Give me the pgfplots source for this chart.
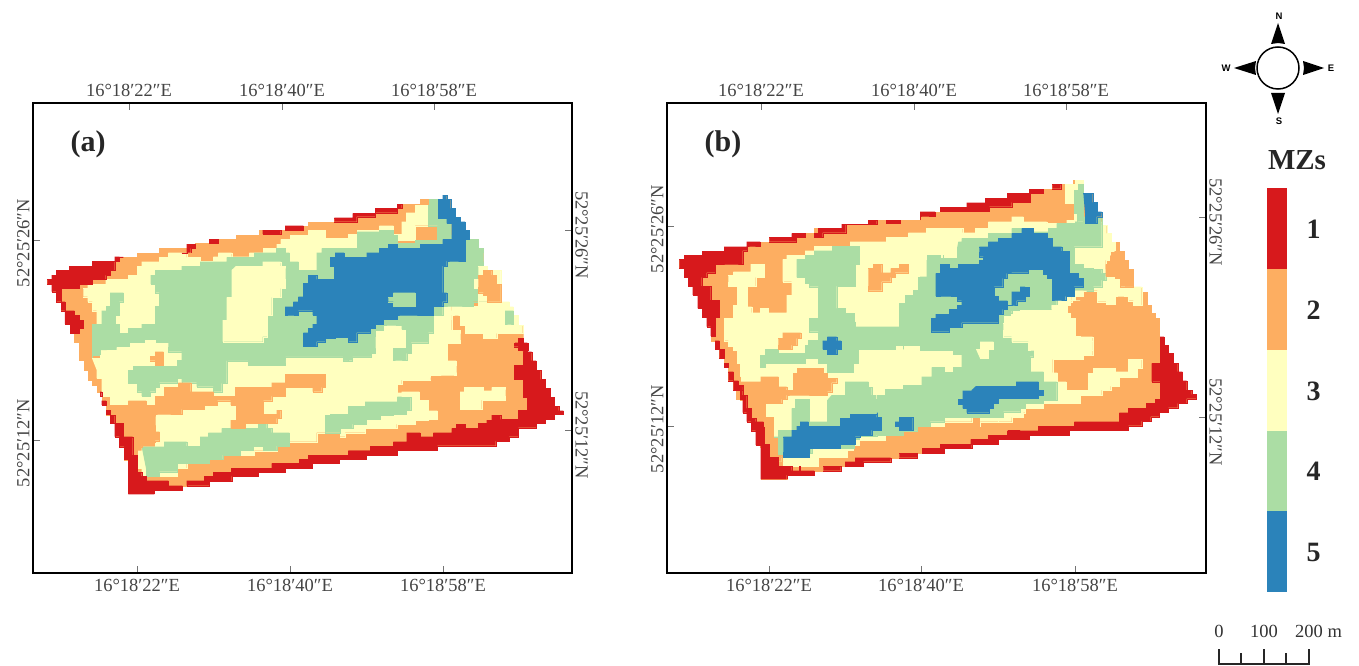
\documentclass[border=0pt]{standalone}
\usepackage{pgfplots}
\usepackage{fontspec}
\setmainfont{Liberation Serif}
\newfontfamily\cmpfont{Liberation Sans}
\pgfplotsset{compat=1.18}
\definecolor{cR}{HTML}{D7191C}
\definecolor{cO}{HTML}{FDAE61}
\definecolor{cY}{HTML}{FFFFBF}
\definecolor{cG}{HTML}{ABDDA4}
\definecolor{cB}{HTML}{2B83BA}
\definecolor{tl}{HTML}{444444}
\newcommand{\poly}[3]{\addplot[const plot,fill=#1,draw=#1,line width=0.2pt,#2] coordinates {#3};}
\pgfplotsset{
 z1/.style={x filter/.expression={30+x/3},y filter/.expression={180+y/3}},
 z2/.style={x filter/.expression={300+x/3},y filter/.expression={180+y/3}},
 z3/.style={x filter/.expression={100+x/3},y filter/.expression={340+y/3}},
 z4/.style={x filter/.expression={340+x/3},y filter/.expression={320+y/3}},
 z5/.style={x filter/.expression={670+x/3},y filter/.expression={220+y/3}},
 z6/.style={x filter/.expression={920+x/3},y filter/.expression={170+y/3}},
 z7/.style={x filter/.expression={740+x/3},y filter/.expression={340+y/3}},
 z8/.style={x filter/.expression={980+x/3},y filter/.expression={300+y/3}},
 mapax/.style={scale only axis,width=539pt,height=470pt,y dir=reverse,ymin=103,ymax=573,
  axis line style={line width=1.6pt,black},tick align=inside,major tick length=7pt,
  tick style={line width=0.5pt,black!55},
  tick label style={font=\fontsize{18.5}{20}\selectfont,text=tl},
  xticklabels={16°18′22″E,16°18′40″E,16°18′58″E},
  yticklabels={52°25′26″N,52°25′12″N},
  xtick pos=bottom,ytick pos=left},
 leftax/.style={ytick pos=left,xtick pos=bottom,xticklabel style={yshift=-3pt},yticklabel style={rotate=90,anchor=south,xshift=-3pt}},
 rightax/.style={ytick pos=right,xtick pos=top,xticklabel style={yshift=3pt},yticklabel style={rotate=-90,anchor=south,xshift=5pt}},
}
\begin{document}
\begin{tikzpicture}
\useasboundingbox (0pt,0pt) rectangle (1359pt,-666pt);

% ---------- panel (a)
\begin{axis}[mapax,leftax,at={(33pt,-573pt)},anchor=south west,xmin=33,xmax=572,
  xtick={137,290,443},ytick={240,440}]
\poly{cO}{}{(47,280)(56,270)(69,266)(92,261)(115,257)(123,257)(137,253)(159,248)(187,244)(195,243)(209,239)(236,235)(259,230)(285,226)(308,222)(334,218)(353,213)(375,208)(397,204)(420,199)(438,199)(443,195)(447,195)(447,199)(451,199)(451,208)(455,208)(455,217)(460,217)(460,222)(465,222)(465,230)(469,230)(469,239)(474,239)(478,248)(483,257)(483,266)(487,270)(492,275)(496,284)(501,293)(501,302)(509,307)(513,315)(518,325)(523,333)(523,343)(527,343)(527,352)(532,352)(532,361)(536,361)(536,370)(541,370)(541,379)(545,379)(545,388)(550,388)(550,397)(554,397)(554,406)(559,406)(559,411)(563,411)(563,414)(554,415)(554,419)(545,419)(536,424)(536,428)(527,428)(518,433)(518,437)(509,437)(509,441)(496,442)(496,446)(437,446)(437,450)(397,451)(397,455)(365,455)(365,459)(339,459)(339,463)(312,463)(312,467)(285,468)(285,472)(258,472)(258,476)(232,476)(232,481)(209,481)(209,486)(182,486)(182,490)(154,490)(154,493)(128,493)(128,460)(124,459)(124,447)(119,446)(119,437)(115,437)(115,423)(110,423)(110,415)(106,414)(106,405)(102,405)(102,392)(97,385)(92,380)(88,370)(84,360)(79,350)(79,342)(74,342)(74,333)(70,333)(70,324)(65,324)(65,311)(61,311)(61,302)(56,302)(56,292)(52,292)(52,284)(47,283)}
% yellow base
\poly{cY}{z1}{(160,325)(173,312)(227,312)(227,298)(295,298)(295,285)(322,270)(322,258)(335,245)(388,245)(388,232)(415,232)(415,218)(470,218)(470,232)(510,232)(510,243)(550,243)(550,230)(565,218)(605,218)(605,230)(658,230)(658,218)(700,218)(700,205)(740,205)(740,192)(752,178)(780,178)(780,165)(840,165)(840,510)(187,510)(187,432)(200,420)(200,392)(187,365)(173,365)(173,350)(160,350)}
\poly{cY}{z2}{(0,165)(25,150)(62,150)(75,175)(145,175)(145,162)(172,150)(238,150)(238,137)(265,137)(280,162)(305,162)(305,125)(318,98)(345,75)(385,87)(412,125)(412,137)(345,180)(292,190)(200,300)(0,300)}
\poly{cY}{z2}{(400,405)(428,392)(455,378)(520,378)(535,365)(602,365)(628,380)(640,405)(655,435)(668,460)(615,460)(590,475)(550,475)(550,460)(495,460)(495,435)(480,405)(470,405)(455,420)}
\poly{cY}{z3}{(0,0)(840,0)(840,265)(730,278)(650,292)(650,305)(568,318)(530,332)(462,332)(462,345)(420,345)(368,358)(328,370)(260,385)(232,408)(138,408)(125,385)(112,332)(125,320)(165,275)(165,235)(130,200)(58,195)(30,168)(5,140)(5,115)(0,90)}
\poly{cY}{z4}{(0,350)(15,338)(75,338)(75,325)(170,312)(225,300)(265,298)(292,272)(265,240)(238,215)(185,218)(172,205)(172,192)(185,180)(270,178)(270,165)(335,165)(348,150)(348,122)(322,108)(322,70)(360,50)(360,30)(335,0)(335,-60)(0,-60)}
% green
\poly{cG}{z1}{(187,510)(187,432)(200,432)(215,420)(215,392)(228,378)(240,378)(240,338)(280,338)(280,365)(268,365)(268,405)(255,405)(255,432)(268,445)(268,460)(295,460)(295,445)(335,445)(335,432)(375,432)(375,378)(388,378)(388,338)(375,338)(375,312)(362,312)(362,285)(375,270)(455,270)(455,258)(510,258)(510,245)(550,245)(590,232)(660,232)(672,218)(738,218)(738,205)(765,205)(765,218)(778,218)(778,245)(805,258)(805,270)(840,285)(840,510)}
\poly{cG}{z2}{(0,285)(25,270)(50,270)(50,218)(65,205)(130,205)(172,155)(238,150)(265,150)(280,165)(292,190)(345,180)(412,137)(385,87)(385,58)(415,58)(440,115)(455,130)(455,165)(495,178)(522,178)(535,205)(549,232)(549,258)(535,258)(535,298)(522,298)(522,320)(535,325)(562,365)(535,365)(520,378)(455,378)(428,392)(428,405)(400,405)(400,458)(385,488)(333,520)(320,540)(292,540)(280,520)(280,505)(318,485)(318,448)(305,435)(270,435)(250,450)(225,490)(225,520)(212,530)(158,530)(145,542)(130,542)(130,530)(-5,530)(-45,542)(-45,555)(-155,555)(-155,542)(-208,542)(-220,580)(-220,285)}
\poly{cG}{z3}{(-24,25)(20,25)(0,45)(-24,55)}
\poly{cY}{z3}{(-24,55)(0,45)(20,30)(50,22)(90,10)(135,10)(135,0)(165,0)(165,10)(205,10)(205,22)(245,35)(245,60)(232,60)(232,78)(100,78)(85,90)(85,115)(0,115)(-10,90)}
\poly{cG}{z3}{(205,0)(800,0)(813,50)(757,50)(757,62)(730,62)(730,50)(595,50)(555,62)(555,75)(445,75)(445,62)(392,62)(380,100)(380,130)(365,155)(340,155)(340,140)(290,128)(245,115)(232,128)(205,128)(178,142)(165,155)(150,168)(125,155)(112,142)(112,130)(85,115)(85,90)(100,78)(232,78)(232,60)(245,60)(245,35)(205,22)}
\poly{cG}{z3}{(125,320)(192,305)(260,305)(260,318)(285,318)(300,290)(325,290)(325,278)(365,278)(365,265)(475,265)(475,250)(500,250)(500,265)(515,278)(568,278)(568,318)(530,318)(530,330)(490,330)(490,318)(460,330)(420,345)(380,345)(368,358)(328,358)(328,370)(248,370)(232,395)(178,395)(178,408)(150,408)(138,385)}
\poly{cG}{z3}{(675,225)(690,222)(745,210)(745,198)(795,198)(795,185)(892,170)(905,172)(932,198)(932,210)(918,223)(880,225)(840,238)(798,252)(758,265)(720,278)(690,278)(675,255)}
\poly{cG}{z2}{(615,392)(628,392)(640,405)(640,432)(628,432)(615,420)}
% yellow islands
\poly{cY}{z1}{(618,258)(698,258)(698,245)(738,245)(752,258)(765,270)(765,325)(752,338)(752,352)(725,365)(725,405)(712,405)(712,470)(698,485)(590,485)(578,465)(578,420)(590,405)(590,352)(605,338)(605,270)}
\poly{cY}{z2}{(535,258)(549,258)(562,270)(602,338)(602,365)(562,365)(535,325)(522,320)(522,298)(535,298)}
% orange islands
\poly{cO}{z3}{(58,195)(85,182)(138,182)(138,195)(165,195)(165,168)(192,142)(235,142)(235,128)(260,128)(272,155)(340,155)(340,168)(365,168)(405,155)(405,142)(515,142)(515,128)(545,128)(555,103)(675,103)(675,142)(665,142)(665,155)(638,155)(638,142)(595,142)(555,168)(515,182)(490,182)(490,222)(530,222)(530,210)(542,210)(542,235)(530,250)(435,250)(435,265)(408,265)(392,240)(408,222)(408,195)(392,195)(392,182)(365,182)(352,195)(312,195)(312,208)(245,208)(245,222)(178,222)(165,235)(165,275)(178,290)(178,302)(165,305)(125,320)(112,332)(112,360)(100,360)(85,300)(70,260)(45,225)(30,195)}
\poly{cO}{z3}{(150,48)(165,48)(165,35)(190,35)(190,75)(165,75)(165,62)(150,62)}
\poly{cO}{z2}{(535,298)(535,285)(550,270)(562,270)(575,285)(588,312)(602,338)(602,365)(575,365)(562,345)(550,338)(535,320)}
\poly{cO}{z2}{(360,58)(385,58)(385,72)(360,72)}
\poly{cY}{z4}{(360,215)(372,202)(425,202)(430,212)(455,202)(482,202)(495,215)(495,240)(425,258)(425,268)(372,268)(360,255)}
% blue
\poly{cB}{z2}{(428,45)(440,45)(440,58)(452,58)(452,85)(465,85)(465,112)(480,112)(480,125)(495,125)(495,150)(508,150)(508,178)(495,178)(495,243)(455,243)(440,258)(428,270)(428,338)(440,338)(440,365)(428,378)(400,392)(400,405)(305,405)(292,418)(250,432)(225,445)(210,458)(170,470)(170,485)(145,485)(145,472)(105,475)(75,485)(50,485)(50,498)(10,498)(10,458)(25,445)(38,445)(38,432)(50,405)(38,392)(-5,392)(-5,405)(-30,405)(-45,392)(-45,380)(-20,365)(-5,350)(10,310)(25,285)(50,285)(50,298)(78,298)(103,285)(103,258)(90,258)(90,232)(105,218)(132,218)(132,232)(195,232)(200,218)(238,218)(238,205)(265,205)(265,192)(292,192)(292,205)(360,205)(360,192)(415,192)(428,178)(440,178)(455,165)(455,130)(440,115)(415,85)(415,58)(428,58)}
\poly{cG}{z2}{(265,352)(280,352)(280,338)(345,338)(345,378)(280,378)(280,365)(265,365)}
% red
\poly{cR}{z1}{(52,298)(65,285)(78,285)(78,270)(118,270)(118,258)(186,258)(186,243)(254,243)(254,230)(280,230)(268,243)(254,258)(254,270)(240,270)(240,285)(227,285)(227,298)(186,298)(186,312)(147,312)(147,325)(93,325)(93,365)(78,365)(78,335)(65,335)(65,312)(52,312)}
\poly{cR}{z1}{(93,365)(105,365)(105,392)(120,392)(133,405)(147,405)(147,420)(160,420)(160,445)(147,445)(147,460)(120,460)(120,432)(105,432)(105,392)(93,392)}
\poly{cR}{z1}{(455,218)(470,205)(470,192)(495,192)(495,205)(482,205)(482,218)}
\poly{cR}{z1}{(537,178)(564,178)(564,190)(537,190)}
\poly{cR}{z1}{(698,150)(752,150)(752,162)(698,162)}
\poly{cR}{z1}{(765,137)(820,137)(820,150)(765,150)}
\poly{cR}{z2}{(103,113)(158,113)(158,100)(225,100)(225,85)(292,85)(292,72)(305,72)(305,85)(292,98)(225,110)(170,112)(170,125)(103,125)}
\poly{cR}{z2}{(642,490)(655,490)(655,478)(670,478)(670,490)(683,490)(683,510)(655,510)(655,500)(642,500)}
\poly{cR}{z4}{(525,68)(535,55)(550,55)(550,68)(562,68)(562,95)(575,95)(575,122)(588,122)(588,150)(602,150)(602,178)(616,178)(616,205)(630,205)(630,232)(643,232)(643,258)(656,258)(656,272)(670,272)(670,283)(643,283)(643,297)(616,297)(616,310)(588,310)(588,323)(560,323)(535,338)(535,350)(507,350)(507,363)(467,363)(467,377)(292,377)(292,390)(172,390)(172,405)(75,405)(75,418)(0,418)(0,405)(25,405)(25,392)(92,392)(92,378)(160,378)(160,365)(188,365)(200,338)(240,338)(240,350)(280,350)(280,338)(335,338)(335,325)(348,312)(375,312)(375,325)(415,325)(415,310)(440,300)(455,285)(482,285)(482,298)(522,298)(535,270)(562,258)(562,232)(550,232)(550,178)(522,160)(522,135)(550,122)(550,95)}
\poly{cR}{z3}{(840,318)(810,318)(810,332)(745,332)(745,345)(625,345)(625,358)(597,358)(597,370)(515,370)(515,385)(393,385)(393,397)(340,397)(340,408)(313,408)(313,422)(260,422)(260,437)(327,437)(327,423)(395,422)(395,408)(475,408)(475,397)(555,397)(555,385)(637,382)(637,370)(717,370)(717,358)(797,358)(797,345)(840,345)}
\poly{cR}{z3}{(85,463)(85,358)(72,358)(72,320)(58,318)(58,290)(44,290)(44,250)(30,250)(30,225)(44,225)(44,250)(70,250)(70,290)(98,290)(98,345)(112,345)(112,397)(125,397)(125,408)(138,408)(138,422)(205,422)(205,437)(247,437)(247,450)(163,450)(163,463)}
\poly{cR}{z3}{(18,210)(30,210)(30,222)(18,222)}
\poly{cR}{z3}{(5,182)(18,182)(18,195)(5,195)}
\poly{cR}{z3}{(0,155)(5,155)(5,168)(0,168)}
\node[font=\fontsize{30}{32}\selectfont\bfseries,text=black!85] at (axis cs:88,144) {(a)};
\end{axis}
\begin{axis}[mapax,rightax,at={(33pt,-573pt)},anchor=south west,xmin=33,xmax=572,
  xtick={129,282,434},ytick={230,430}]
\end{axis}

% ---------- panel (b)
\begin{axis}[mapax,leftax,at={(667pt,-573pt)},anchor=south west,xmin=667,xmax=1206,
  xtick={769,921,1075},ytick={226,426}]
\poly{cO}{}{(679,259)(684,255)(702,251)(724,247)(747,242)(769,237)(792,233)(814,228)(818,228)(842,224)(868,220)(920,212)(940,207)(967,203)(985,198)(1007,193)(1029,189)(1052,184)(1073,180)(1078,180)(1083,184)(1083,193)(1088,193)(1093,202)(1097,212)(1102,217)(1102,225)(1107,233)(1111,242)(1119,252)(1124,260)(1128,269)(1133,278)(1133,287)(1142,292)(1147,305)(1151,313)(1155,318)(1159,327)(1159,337)(1164,337)(1164,345)(1168,345)(1168,353)(1173,353)(1173,363)(1178,363)(1178,372)(1182,372)(1182,381)(1187,381)(1187,390)(1192,390)(1192,394)(1196,394)(1196,399)(1187,399)(1187,403)(1178,403)(1178,408)(1168,408)(1168,412)(1159,412)(1159,417)(1151,417)(1151,421)(1142,421)(1142,426)(1128,426)(1128,430)(1069,430)(1069,435)(1029,435)(1029,439)(998,439)(998,444)(972,444)(972,448)(944,448)(944,453)(917,453)(917,458)(891,458)(891,462)(863,462)(863,466)(841,466)(841,471)(814,471)(814,475)(787,475)(787,479)(761,479)(761,445)(756,444)(756,431)(751,430)(751,422)(747,422)(747,413)(743,413)(743,399)(736,399)(736,390)(733,390)(733,381)(728,381)(728,367)(724,367)(724,358)(719,358)(719,349)(715,349)(715,341)(711,336)(711,327)(707,327)(707,317)(702,317)(702,308)(698,308)(698,295)(693,295)(693,286)(688,286)(688,277)(684,277)(684,268)(679,268)}
% yellow base
\poly{cY}{z5}{(175,165)(190,155)(242,142)(242,132)(270,132)(283,145)(283,172)(270,172)(257,198)(232,225)(232,260)(245,278)(270,278)(270,265)(295,265)(295,278)(338,278)(350,265)(350,225)(365,210)(365,185)(338,172)(338,118)(350,105)(392,105)(405,92)(432,92)(432,78)(540,78)(540,65)(648,65)(648,52)(715,52)(715,38)(770,38)(770,25)(820,25)(820,510)(325,510)(325,495)(312,482)(297,470)(268,470)(255,495)(230,495)(218,470)(215,430)(202,430)(202,390)(190,378)(175,362)(162,335)(162,295)(190,280)(190,255)(202,225)(202,198)(175,185)}
\poly{cY}{z6}{(0,192)(18,175)(128,175)(128,188)(165,188)(165,175)(205,155)(275,140)(300,140)(310,155)(380,160)(440,150)(462,130)(462,100)(435,60)(435,42)(450,42)(465,30)(475,30)(490,42)(490,155)(545,155)(545,165)(560,190)(573,217)(585,243)(570,258)(570,270)(557,283)(557,298)(585,318)(600,325)(612,350)(640,350)(665,365)(665,405)(640,392)(625,378)(600,378)(585,403)(558,403)(558,395)(532,378)(532,362)(500,362)(455,395)(437,420)(350,540)(0,540)}
\poly{cY}{z7}{(0,0)(840,0)(840,215)(800,232)(695,245)(612,258)(532,272)(490,285)(435,300)(358,315)(340,330)(322,352)(255,352)(235,378)(195,378)(130,365)(105,340)(100,295)(75,232)(40,150)(0,125)}
\poly{cY}{z8}{(0,0)(300,0)(270,15)(260,40)(270,68)(285,82)(285,108)(300,122)(338,122)(338,165)(310,165)(310,178)(230,178)(218,190)(218,218)(232,232)(232,245)(258,270)(300,270)(325,245)(325,220)(340,205)(390,205)(405,215)(420,215)(445,178)(472,178)(485,205)(472,232)(432,232)(418,258)(392,270)(365,285)(300,310)(205,310)(190,325)(135,338)(130,352)(95,365)(55,352)(55,365)(0,380)}
% green
\poly{cG}{z5}{(380,118)(405,105)(432,92)(487,92)(487,78)(555,78)(567,92)(567,132)(555,145)(555,198)(500,225)(500,265)(525,280)(552,305)(555,320)(660,320)(688,292)(688,250)(705,225)(730,210)(745,172)(770,160)(770,120)(820,105)(820,365)(415,365)(445,350)(445,335)(418,320)(418,295)(445,280)(445,200)(418,190)(405,172)(380,145)}
\poly{cG}{z6}{(115,215)(125,205)(205,205)(205,190)(275,175)(305,175)(340,185)(385,175)(410,175)(410,160)(435,160)(465,155)(490,140)(545,155)(545,230)(475,230)(462,245)(462,283)(490,295)(518,298)(545,310)(557,330)(545,350)(520,362)(490,362)(465,378)(410,405)(395,418)(300,420)(270,435)(250,458)(250,480)(275,500)(325,515)(340,540)(0,540)(0,320)(22,255)(60,255)(60,265)(100,265)(112,255)(112,230)}
\poly{cG}{z6}{(462,60)(475,42)(490,42)(490,155)(465,155)(472,130)(462,100)}
\poly{cG}{z7}{(275,165)(315,125)(370,125)(385,142)(395,165)(405,178)(410,165)(435,148)(490,148)(490,135)(545,110)(575,82)(612,82)(612,97)(640,97)(640,82)(665,70)(665,42)(640,28)(600,5)(610,0)(840,0)(840,215)(790,232)(695,232)(612,245)(570,258)(532,272)(490,285)(410,288)(358,298)(342,325)(300,312)(228,325)(215,340)(205,350)(130,350)(115,340)(102,290)(115,270)(142,270)(155,250)(155,205)(165,178)(195,178)(207,205)(207,245)(250,245)(262,225)(262,180)}
\poly{cG}{z7}{(60,45)(75,28)(115,28)(115,40)(155,40)(195,15)(205,0)(610,0)(600,5)(545,15)(490,28)(490,15)(465,15)(465,28)(370,28)(355,42)(355,70)(340,85)(340,97)(315,97)(262,70)(235,55)(195,70)(75,82)(60,65)}
\poly{cG}{z8}{(0,0)(230,0)(215,10)(135,28)(95,40)(68,55)(68,85)(95,112)(148,122)(160,135)(160,170)(150,190)(150,215)(190,245)(230,270)(230,300)(190,310)(135,325)(40,338)(-30,345)(-30,0)}
% yellow islands
\poly{cY}{z6}{(250,460)(260,445)(275,432)(300,420)(395,418)(395,405)(420,390)(465,378)(490,362)(500,362)(455,395)(437,420)(437,445)(465,470)(465,500)(518,515)(518,540)(340,540)(325,515)(275,500)(250,480)}
\poly{cY}{z7}{(708,28)(720,5)(745,5)(760,28)(745,55)(720,55)}
% orange islands
\poly{cO}{z5}{(325,355)(338,338)(380,338)(392,355)(380,362)(380,375)(365,388)(338,388)(325,375)}
\poly{cO}{z5}{(595,145)(610,145)(610,132)(622,132)(635,158)(662,158)(662,145)(688,145)(688,132)(715,132)(715,158)(688,158)(675,172)(662,185)(635,198)(635,212)(610,212)(595,198)}
\poly{cO}{z6}{(585,243)(598,243)(612,270)(625,298)(640,325)(640,350)(612,350)(600,325)(585,318)(557,298)(557,283)(570,270)(570,258)}
\poly{cO}{z7}{(-10,110)(0,125)(48,125)(62,110)(85,110)(115,140)(140,150)(160,125)(160,100)(172,85)(235,85)(250,100)(262,115)(275,115)(290,128)(275,140)(275,155)(262,155)(262,165)(155,165)(140,178)(125,190)(75,207)(75,232)(100,245)(100,295)(112,345)(125,365)(90,365)(75,320)(60,265)(45,240)(30,215)(15,180)(0,140)}
% blue
\poly{cB}{z5}{(458,362)(472,362)(472,350)(500,350)(500,362)(513,362)(513,388)(500,388)(500,402)(472,402)(472,388)(458,388)}
\poly{cB}{z6}{(490,70)(505,70)(518,97)(532,125)(545,140)(530,150)(530,160)(505,160)(495,130)}
\poly{cB}{z6}{(178,230)(205,215)(235,215)(235,205)(275,205)(275,190)(305,190)(305,175)(340,175)(340,190)(382,190)(382,205)(397,205)(397,230)(425,243)(448,258)(448,310)(462,310)(475,325)(490,338)(490,350)(462,365)(462,378)(437,378)(437,390)(410,390)(397,378)(397,325)(382,312)(370,298)(328,295)(325,308)(275,310)(260,325)(248,350)(222,365)(222,378)(235,392)(262,405)(275,392)(275,365)(300,350)(315,352)(328,365)(328,378)(315,392)(290,405)(275,405)(262,418)(248,432)(235,458)(130,458)(125,472)(87,472)(87,485)(47,485)(33,472)(33,445)(47,432)(87,418)(112,405)(125,392)(112,378)(75,378)(47,350)(47,310)(60,283)(87,283)(87,295)(115,295)(115,283)(178,270)(190,260)(178,245)}
\poly{cB}{z7}{(130,290)(155,270)(170,258)(180,245)(205,245)(205,258)(275,258)(300,235)(330,222)(410,218)(410,232)(423,232)(423,270)(395,285)(360,290)(345,298)(345,312)(300,312)(300,325)(228,325)(208,352)(145,352)(130,335)}
\poly{cB}{z7}{(465,245)(478,245)(478,232)(518,232)(518,270)(478,270)(478,258)(465,258)}
\poly{cB}{z8}{(-12,258)(108,258)(108,245)(160,245)(175,270)(190,270)(190,285)(175,295)(55,295)(55,310)(40,325)(28,338)(-25,338)(-40,325)(-52,312)(-65,312)(-65,298)(-52,285)(-52,272)(-25,270)}
% red
\poly{cR}{z5}{(28,118)(42,105)(97,93)(162,80)(230,65)(270,65)(270,78)(243,78)(232,92)(218,132)(190,132)(135,145)(135,158)(110,172)(95,172)(95,198)(122,225)(122,240)(148,255)(148,292)(135,292)(135,348)(122,348)(122,320)(110,320)(110,292)(97,292)(97,265)(83,265)(83,225)(68,225)(68,198)(55,198)(55,172)(42,172)(42,145)(28,145)}
\poly{cR}{z5}{(298,52)(365,52)(365,40)(405,40)(405,52)(378,52)(378,65)(298,65)}
\poly{cR}{z5}{(432,40)(445,40)(445,25)(515,25)(515,12)(595,12)(595,0)(620,0)(620,12)(527,25)(527,38)(458,38)(458,52)(432,52)}
\poly{cR}{z5}{(648,0)(690,0)(690,10)(648,10)}
\poly{cR}{z5}{(135,362)(148,362)(148,388)(135,388)}
\poly{cR}{z5}{(148,388)(162,388)(162,415)(148,415)}
\poly{cR}{z5}{(162,430)(175,430)(175,442)(162,442)}
\poly{cR}{z5}{(175,455)(190,455)(190,482)(175,482)}
\poly{cR}{z5}{(190,482)(205,495)(218,510)(190,510)}
\poly{cR}{z6}{(0,125)(45,125)(45,138)(8,138)(0,150)}
\poly{cR}{z6}{(60,112)(140,112)(140,98)(195,98)(195,85)(262,85)(262,70)(328,70)(328,57)(370,57)(370,70)(330,70)(330,97)(275,97)(275,110)(208,110)(208,123)(60,123)}
\poly{cR}{z6}{(397,43)(422,43)(422,56)(397,56)}
\poly{cR}{z8}{(540,110)(552,110)(552,135)(565,135)(565,160)(580,160)(580,190)(593,190)(593,215)(607,215)(607,242)(620,242)(620,270)(635,270)(635,283)(648,283)(648,296)(620,296)(620,310)(593,310)(593,323)(565,323)(565,337)(538,337)(538,350)(512,350)(512,363)(485,363)(485,377)(445,377)(445,390)(268,390)(268,405)(148,405)(148,418)(55,418)(55,432)(0,432)(0,418)(25,418)(25,405)(82,405)(82,392)(175,392)(175,378)(283,378)(283,365)(390,365)(418,338)(445,325)(498,325)(498,310)(525,298)(540,283)(540,245)(515,232)(515,190)(540,160)}
\poly{cR}{z7}{(840,270)(805,270)(805,285)(748,290)(748,298)(692,300)(692,312)(600,312)(600,325)(547,325)(547,340)(612,340)(612,325)(695,325)(695,312)(775,312)(775,298)(840,298)}
\poly{cR}{z7}{(478,340)(532,340)(532,353)(478,353)}
\poly{cR}{z7}{(345,353)(452,353)(452,365)(370,365)(370,378)(315,378)(315,365)(345,365)}
\poly{cR}{z7}{(250,378)(302,378)(302,392)(250,392)}
\poly{cR}{z7}{(62,418)(62,315)(47,313)(47,272)(33,270)(33,245)(20,245)(20,218)(8,218)(8,178)(0,178)(0,138)(8,165)(20,178)(20,205)(33,235)(47,245)(70,260)(72,312)(85,312)(88,352)(100,352)(115,365)(115,378)(155,378)(155,392)(178,392)(178,378)(180,392)(222,392)(222,405)(140,405)(140,418)}
\node[font=\fontsize{30}{32}\selectfont\bfseries,text=black!85] at (axis cs:723,144) {(b)};
\end{axis}
\begin{axis}[mapax,rightax,at={(667pt,-573pt)},anchor=south west,xmin=667,xmax=1206,
  xtick={761,914,1066},ytick={217,417}]
\end{axis}

% ---------- class key
\begin{axis}[scale only axis,width=20pt,height=404pt,at={(1267pt,-592pt)},anchor=south west,
  xmin=0,xmax=1,y dir=reverse,ymin=188,ymax=592,hide x axis,axis y line*=right,
  axis line style={draw=none},major tick length=0pt,ytick={229,310,391,471,552},
  yticklabels={1,2,3,4,5},
  yticklabel style={font=\fontsize{28}{30}\selectfont\bfseries,text=black!85,xshift=16pt}]
\addplot[fill=cR,draw=none] coordinates {(0,188)(1,188)(1,269)(0,269)};
\addplot[fill=cO,draw=none] coordinates {(0,269)(1,269)(1,350)(0,350)};
\addplot[fill=cY,draw=none] coordinates {(0,350)(1,350)(1,431)(0,431)};
\addplot[fill=cG,draw=none] coordinates {(0,431)(1,431)(1,511)(0,511)};
\addplot[fill=cB,draw=none] coordinates {(0,511)(1,511)(1,592)(0,592)};
\end{axis}

\begin{scope}[x=1pt,y=-1pt]
\node[font=\fontsize{29}{30}\selectfont\bfseries,text=black!85] at (1297,160) {MZs};
% compass
\draw[line width=1.5pt,black] (1278,68) circle (21pt);
\fill[black] (1278,23)--(1285,44)--(1278,43)--(1271,44)--cycle;
\fill[black] (1278,114)--(1285,93)--(1278,93)--(1271,93)--cycle;
\fill[black] (1234,68)--(1256,61)--(1255,68)--(1256,75)--cycle;
\fill[black] (1324,68)--(1303,61)--(1304,68)--(1303,75)--cycle;
\node[font=\cmpfont\bfseries\fontsize{9.5}{10}\selectfont] at (1279,16) {N};
\node[font=\cmpfont\bfseries\fontsize{9.5}{10}\selectfont] at (1279,121) {S};
\node[font=\cmpfont\bfseries\fontsize{9.5}{10}\selectfont] at (1226,68) {W};
\node[font=\cmpfont\bfseries\fontsize{9.5}{10}\selectfont] at (1331,68) {E};
% scale bar
\draw[line width=1.2pt,black!85] (1219,649)--(1219,664)--(1309,664)--(1309,649);
\draw[line width=1.2pt,black!85] (1241,653)--(1241,664) (1264,649)--(1264,664) (1286,653)--(1286,664);
\node[font=\fontsize{18.5}{19}\selectfont,text=black!80] at (1219,631) {0};
\node[font=\fontsize{18.5}{19}\selectfont,text=black!80] at (1264,631) {100};
\node[font=\fontsize{18.5}{19}\selectfont,text=black!80,anchor=west,inner sep=0pt] at (1295,631) {200 m};
\end{scope}
\end{tikzpicture}
\end{document}
